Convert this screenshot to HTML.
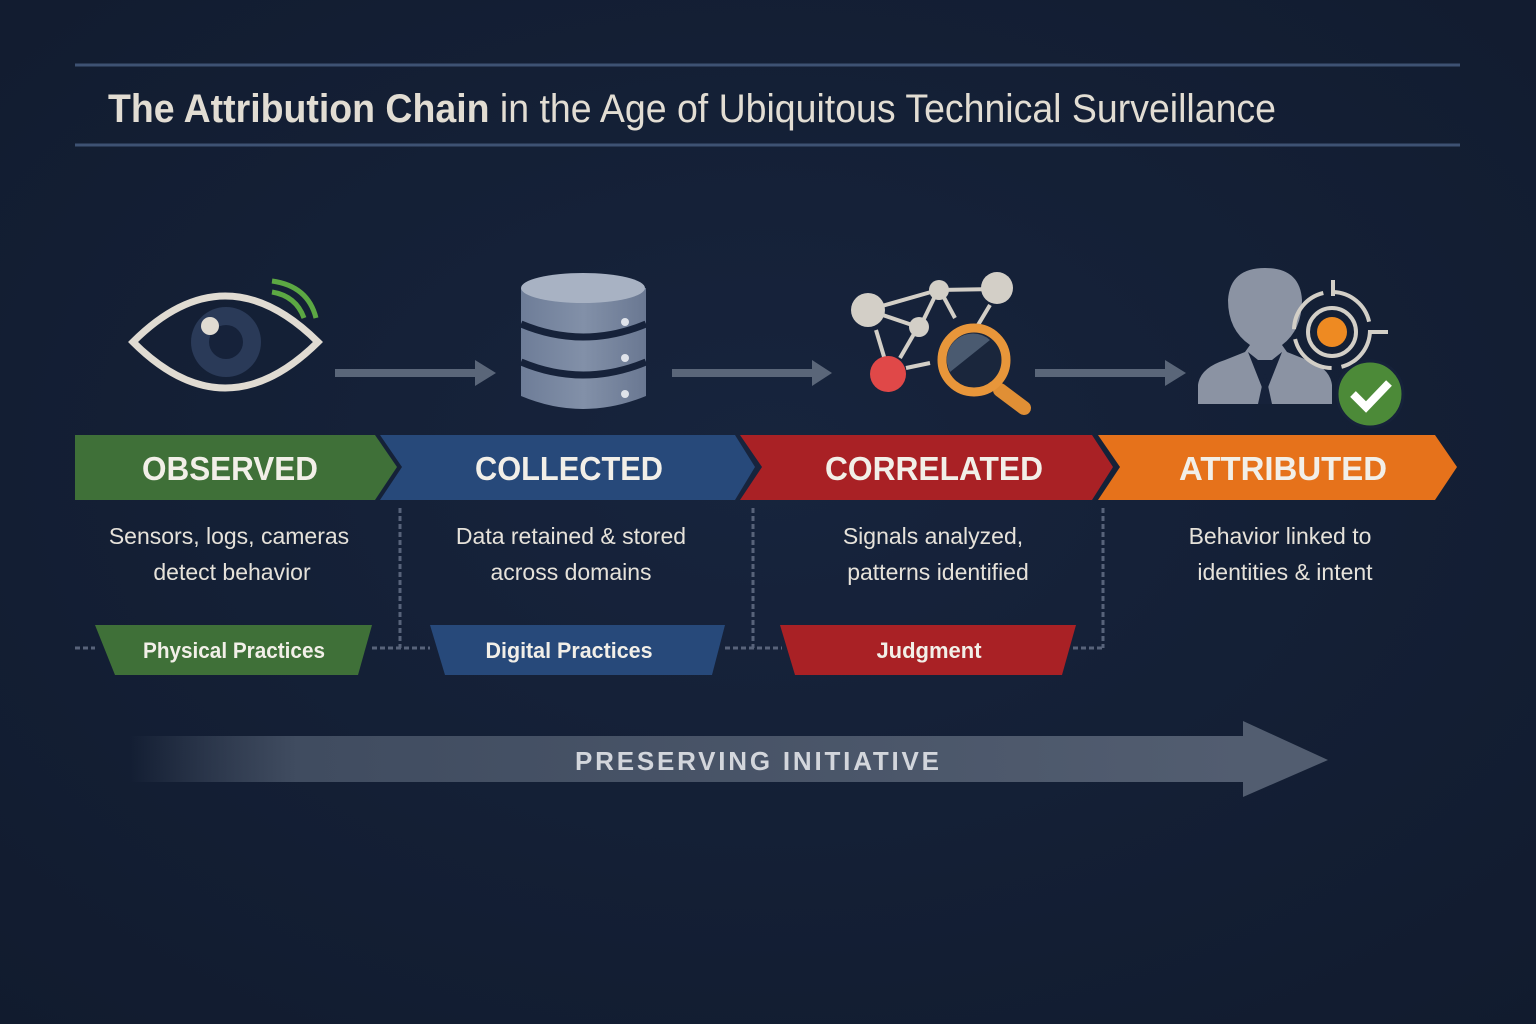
<!DOCTYPE html>
<html><head><meta charset="utf-8"><style>
html,body{margin:0;padding:0;background:#142038;}
svg{display:block}
text{font-family:"Liberation Sans",sans-serif;}
</style></head><body>
<svg width="1536" height="1024" viewBox="0 0 1536 1024" xmlns="http://www.w3.org/2000/svg">
<defs>
<radialGradient id="bg" cx="50%" cy="45%" r="75%"><stop offset="0" stop-color="#17243d"/><stop offset="1" stop-color="#111b2e"/></radialGradient>
<linearGradient id="ar" x1="0" x2="1"><stop offset="0" stop-color="#4a5568" stop-opacity="0"/><stop offset="0.15" stop-color="#404c60"/><stop offset="1" stop-color="#525d70"/></linearGradient>
<linearGradient id="db" x1="0" x2="1"><stop offset="0" stop-color="#6e7d98"/><stop offset="0.5" stop-color="#8290a8"/><stop offset="1" stop-color="#6a7892"/></linearGradient>
</defs>
<rect width="1536" height="1024" fill="url(#bg)"/>
<line x1="75" y1="65" x2="1460" y2="65" stroke="#3e5273" stroke-width="3"/>
<line x1="75" y1="145" x2="1460" y2="145" stroke="#3e5273" stroke-width="3"/>
<text x="108" y="122" font-size="40" fill="#e2ddd3" textLength="1168" lengthAdjust="spacingAndGlyphs"><tspan font-weight="bold">The Attribution Chain</tspan> in the Age of Ubiquitous Technical Surveillance</text>

<!-- eye -->
<path d="M133 342 Q225 250 318 342 Q225 434 133 342Z" fill="none" stroke="#e0dbd2" stroke-width="7"/>
<circle cx="226" cy="342" r="35" fill="#2a3a58"/>
<circle cx="226" cy="342" r="17" fill="#16223a"/>
<circle cx="210" cy="326" r="9" fill="#e0dbd2"/>
<path d="M272 292 Q296 296 304 318" fill="none" stroke="#5ca843" stroke-width="5"/>
<path d="M272 281 Q308 286 316 318" fill="none" stroke="#5ca843" stroke-width="5"/>
<!-- arrows -->
<g fill="#5a6679">
<rect x="335" y="369" width="142" height="8"/><polygon points="475,360 496,373 475,386"/>
<rect x="672" y="369" width="142" height="8"/><polygon points="812,360 832,373 812,386"/>
<rect x="1035" y="369" width="132" height="8"/><polygon points="1165,360 1186,373 1165,386"/>
</g>
<!-- database -->
<g>
<path d="M521 288 L521 396 Q583 422 646 396 L646 288Z" fill="url(#db)"/>
<path d="M521 324 Q583 350 646 324" fill="none" stroke="#16223a" stroke-width="7"/>
<path d="M521 362 Q583 388 646 362" fill="none" stroke="#16223a" stroke-width="7"/>
<ellipse cx="583" cy="288" rx="62" ry="15" fill="#a8b2c3"/>
<circle cx="625" cy="322" r="4" fill="#dfe3ea"/><circle cx="625" cy="358" r="4" fill="#dfe3ea"/><circle cx="625" cy="394" r="4" fill="#dfe3ea"/>
</g>
<!-- network -->
<g stroke="#d3cfc7" stroke-width="4">
<line x1="868" y1="310" x2="938" y2="290"/><line x1="938" y1="290" x2="997" y2="289"/><line x1="868" y1="310" x2="918" y2="327"/>
<line x1="938" y1="290" x2="920" y2="327"/><line x1="941" y1="292" x2="955" y2="318"/><line x1="876" y1="330" x2="885" y2="360"/>
<line x1="918" y1="327" x2="900" y2="358"/><line x1="906" y1="368" x2="930" y2="363"/><line x1="990" y1="305" x2="978" y2="325"/>
</g>
<circle cx="868" cy="310" r="17" fill="#d3cfc7"/><circle cx="939" cy="290" r="10" fill="#d3cfc7"/><circle cx="997" cy="288" r="16" fill="#d3cfc7"/><circle cx="919" cy="327" r="10" fill="#d3cfc7"/>
<circle cx="888" cy="374" r="18" fill="#e04848"/>
<line x1="1000" y1="390" x2="1024" y2="408" stroke="#e08f35" stroke-width="14" stroke-linecap="round"/>
<circle cx="974" cy="360" r="32" fill="#1a263c" stroke="#e8963a" stroke-width="9"/>
<path d="M950 372 A26 26 0 0 1 990 340Z" fill="#4a5a70"/>
<!-- person -->
<path d="M1198 404 L1198 385 Q1200 368 1225 360 L1245 352 L1250 345 Q1228 330 1228 300 Q1230 268 1265 268 Q1300 268 1302 300 Q1302 330 1282 345 L1287 352 L1307 360 Q1330 368 1332 385 L1332 404Z" fill="#8b93a3"/>
<path d="M1248 352 L1265 395 L1282 352 L1272 360 L1258 360Z" fill="#16223a"/>
<path d="M1258 404 L1265 372 L1272 404Z" fill="#16223a"/>
<circle cx="1332" cy="330" r="38" fill="none" stroke="#d3cfc7" stroke-width="4" stroke-dasharray="50 10"/>
<circle cx="1332" cy="332" r="24" fill="none" stroke="#d3cfc7" stroke-width="4"/>
<circle cx="1332" cy="332" r="15" fill="#ee8a22"/>
<line x1="1333" y1="280" x2="1333" y2="296" stroke="#d3cfc7" stroke-width="4"/><line x1="1368" y1="332" x2="1388" y2="332" stroke="#d3cfc7" stroke-width="4"/>
<circle cx="1370" cy="394" r="33" fill="#4c8a38" stroke="#16223a" stroke-width="3"/>
<path d="M1353 394 L1366 407 L1389 383" fill="none" stroke="#fff" stroke-width="8"/>

<!-- chevrons -->
<polygon points="75,435 375,435 397,467 375,500 75,500" fill="#3f7038"/>
<polygon points="380,435 735,435 755,467 735,500 380,500 402,467" fill="#27497a"/>
<polygon points="740,435 1092,435 1113,467 1092,500 740,500 762,467" fill="#a92125"/>
<polygon points="1098,435 1435,435 1457,467 1435,500 1098,500 1120,467" fill="#e6721b"/>
<g font-size="33" font-weight="bold" fill="#f2efe8" text-anchor="middle">
<text x="230" y="480" textLength="176" lengthAdjust="spacingAndGlyphs">OBSERVED</text><text x="569" y="480" textLength="188" lengthAdjust="spacingAndGlyphs">COLLECTED</text><text x="934" y="480" textLength="218" lengthAdjust="spacingAndGlyphs">CORRELATED</text><text x="1283" y="480" textLength="208" lengthAdjust="spacingAndGlyphs">ATTRIBUTED</text>
</g>
<g font-size="23" fill="#e6e2da" text-anchor="middle">
<text x="229" y="544">Sensors, logs, cameras</text><text x="232" y="580">detect behavior</text>
<text x="571" y="544">Data retained &amp; stored</text><text x="571" y="580">across domains</text>
<text x="933" y="544">Signals analyzed,</text><text x="938" y="580">patterns identified</text>
<text x="1280" y="544">Behavior linked to</text><text x="1285" y="580">identities &amp; intent</text>
</g>
<!-- dashes -->
<g stroke="#58637a" stroke-width="3" stroke-dasharray="5 3" fill="none">
<line x1="75" y1="648" x2="95" y2="648"/><line x1="372" y1="648" x2="430" y2="648"/><line x1="725" y1="648" x2="782" y2="648"/><line x1="1073" y1="648" x2="1103" y2="648"/>
<line x1="400" y1="508" x2="400" y2="648"/><line x1="753" y1="508" x2="753" y2="648"/><line x1="1103" y1="508" x2="1103" y2="648"/>
</g>
<polygon points="95,625 372,625 358,675 115,675" fill="#3f7038"/>
<polygon points="430,625 725,625 712,675 445,675" fill="#27497a"/>
<polygon points="780,625 1076,625 1062,675 795,675" fill="#a92125"/>
<g font-size="22" font-weight="bold" fill="#f2efe8" text-anchor="middle">
<text x="234" y="658" textLength="182" lengthAdjust="spacingAndGlyphs">Physical Practices</text><text x="569" y="658" textLength="167" lengthAdjust="spacingAndGlyphs">Digital Practices</text><text x="929" y="658">Judgment</text>
</g>
<!-- big arrow -->
<rect x="130" y="736" width="1114" height="46" fill="url(#ar)"/>
<polygon points="1243,721 1328,760 1243,797" fill="#525d70"/>
<text x="758" y="770" font-size="26" font-weight="bold" fill="#d3d6dc" text-anchor="middle" letter-spacing="2" textLength="366" lengthAdjust="spacing">PRESERVING INITIATIVE</text>
</svg>
</body></html>
